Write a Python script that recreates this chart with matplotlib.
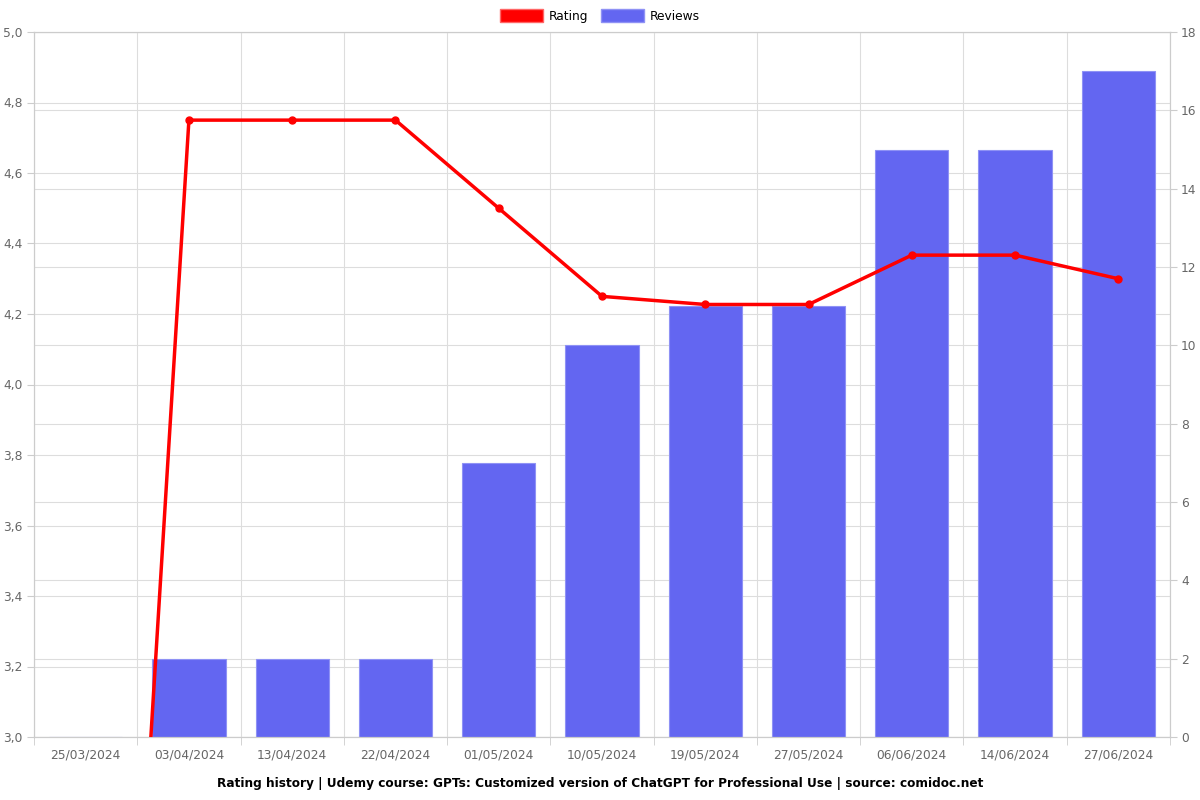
import matplotlib
matplotlib.use("Agg")
import matplotlib.pyplot as plt
from matplotlib.ticker import FuncFormatter, FixedLocator, NullFormatter
from matplotlib.patches import Patch
from matplotlib.lines import Line2D

dates = ["25/03/2024", "03/04/2024", "13/04/2024", "22/04/2024", "01/05/2024",
         "10/05/2024", "19/05/2024", "27/05/2024", "06/06/2024", "14/06/2024", "27/06/2024"]
rating = [0.0, 4.75, 4.75, 4.75, 4.5, 4.25, 4.227, 4.227, 4.367, 4.367, 4.3]
reviews = [0, 2, 2, 2, 7, 10, 11, 11, 15, 15, 17]

title = "Rating history | Udemy course: GPTs: Customized version of ChatGPT for Professional Use | source: comidoc.net"

fs = 8.8
fig = plt.figure(figsize=(12, 8), dpi=100)
ax = fig.add_axes([34/1200, 1-737/800, (1170-34)/1200, (737-32)/800])
ax2 = ax.twinx()

x = list(range(len(dates)))
grid_c = "#dddddd"
tick_c = "#666666"

ax.set_ylim(3.0, 5.0)
left_ticks = [3.0 + 0.2*i for i in range(11)]
ax.set_yticks(left_ticks)
ax.yaxis.set_major_formatter(FuncFormatter(lambda v, p: f"{v:.1f}".replace(".", ",")))
ax.set_xlim(-0.5, len(dates) - 0.5)

# bars on right axis
ax2.bar(x, reviews, width=0.71, color="#6366f1", edgecolor="#8f92f5", linewidth=0.8, zorder=2)
ax2.set_ylim(0, 18)
ax2.set_yticks(range(0, 19, 2))
ax2.grid(True, axis="y", color=grid_c, linewidth=0.8, zorder=0)
ax2.set_axisbelow(True)
# left-axis gridlines drawn behind bars
for v in left_ticks:
    ax2.add_line(Line2D([0, 1], [v, v], transform=ax.get_yaxis_transform(),
                        color=grid_c, linewidth=0.8, zorder=0.5))

# rating line on left axis, drawn above bars
ax.set_zorder(ax2.get_zorder() + 1)
ax.patch.set_visible(False)
ax.plot(x, rating, color="#ff0000", linewidth=2.5, marker="o", markersize=5, zorder=3)

ax.set_xticks(x)
ax.set_xticklabels(dates)
ax.xaxis.set_minor_locator(FixedLocator([i - 0.5 for i in range(len(dates) + 1)]))
ax.xaxis.set_minor_formatter(NullFormatter())
ax.tick_params(axis="x", which="major", length=0, pad=8, labelsize=fs, labelcolor=tick_c)
ax.tick_params(axis="x", which="minor", length=6, color="#cccccc")
ax.tick_params(axis="y", length=5, pad=3, color="#cccccc", labelsize=fs, labelcolor=tick_c)
ax2.tick_params(axis="y", length=5, pad=3, color="#cccccc", labelsize=fs, labelcolor=tick_c)
ax.grid(True, axis="x", which="minor", color=grid_c, linewidth=0.8)

for a in (ax, ax2):
    for s in a.spines.values():
        s.set_color("#cccccc")
        s.set_linewidth(0.8)

handles = [Patch(facecolor="#ff0000", edgecolor="#ff6666"), Patch(facecolor="#6366f1", edgecolor="#8f92f5")]
fig.legend(handles, ["Rating", "Reviews"], loc="center", bbox_to_anchor=(0.5, 1-16/800), ncol=2,
           frameon=False, fontsize=fs, handlelength=3.5, handleheight=1.2, columnspacing=1.0, handletextpad=0.5)

fig.text(0.5, 1-783/800, title, ha="center", va="center", fontsize=8.7, fontweight="bold")

fig.savefig("out.png", dpi=100)
